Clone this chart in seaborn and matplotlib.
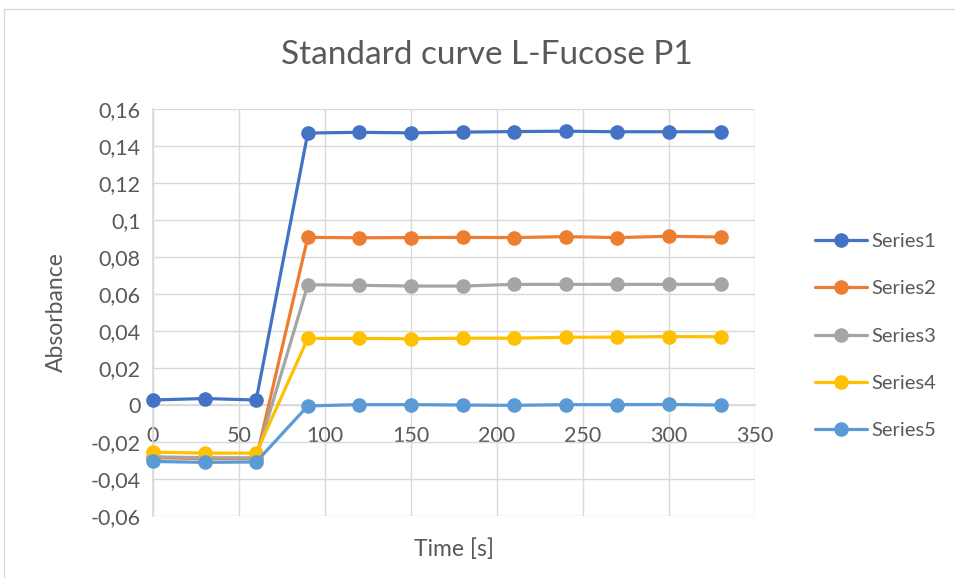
import matplotlib
matplotlib.use("Agg")
import matplotlib.pyplot as plt
import matplotlib.patches as mpatches
from matplotlib.ticker import FuncFormatter, MultipleLocator
import seaborn as sns
import pandas as pd

time_s = [0, 30, 60, 90, 120, 150, 180, 210, 240, 270, 300, 330]
series1 = [0.0027, 0.0035, 0.0027, 0.1470, 0.1474, 0.1471, 0.1475, 0.1478, 0.1480, 0.1477, 0.1477, 0.1477]
series2 = [-0.0285, -0.0290, -0.0290, 0.0906, 0.0904, 0.0905, 0.0906, 0.0905, 0.0910, 0.0905, 0.0912, 0.0908]
series3 = [-0.0280, -0.0285, -0.0285, 0.0650, 0.0647, 0.0643, 0.0643, 0.0652, 0.0652, 0.0652, 0.0652, 0.0652]
series4 = [-0.0255, -0.0260, -0.0260, 0.0360, 0.0360, 0.0358, 0.0361, 0.0361, 0.0366, 0.0367, 0.0370, 0.0369]
series5 = [-0.0305, -0.0310, -0.0308, -0.0005, 0.0002, 0.0002, 0.0000, -0.0002, 0.0002, 0.0002, 0.0003, 0.0000]
series_names = ["Series1", "Series2", "Series3", "Series4", "Series5"]
colors = ["#4472C4", "#ED7D31", "#A5A5A5", "#FFC000", "#5B9BD5"]

rows = []
for name, vals in zip(series_names, [series1, series2, series3, series4, series5]):
    for t, v in zip(time_s, vals):
        rows.append({"Time": t, "Absorbance": v, "Series": name})
df = pd.DataFrame(rows)

sns.set_theme(style="white")
plt.rcParams['font.family'] = ['Lato', 'DejaVu Sans']

fig = plt.figure(figsize=(9.55, 5.78), dpi=100)
ax = fig.add_axes([153/955, 1-516/578, (755-153)/955, (516-109)/578])

sns.lineplot(data=df, x="Time", y="Absorbance", hue="Series", palette=colors,
             marker="o", markersize=10.5, markeredgewidth=0, linewidth=2.3,
             ax=ax, zorder=3, legend=True)
for ln in ax.lines:
    ln.set_clip_on(False)

ax.set_xlim(0, 350)
ax.set_ylim(-0.06, 0.16)
ax.xaxis.set_major_locator(MultipleLocator(50))
ax.yaxis.set_major_locator(MultipleLocator(0.02))
ax.yaxis.set_major_formatter(FuncFormatter(lambda v, p: ("0" if abs(v) < 1e-9 else f"{v:.2f}".rstrip('0').replace('.', ','))))
ax.grid(True, color="#D9D9D9", linewidth=1)
ax.set_axisbelow(True)
for s in ["top", "right"]:
    ax.spines[s].set_visible(False)
ax.spines["left"].set_color("#D9D9D9")
ax.spines["bottom"].set_color("#D9D9D9")
ax.spines["bottom"].set_position(("data", 0))
ax.tick_params(axis="both", length=0, labelsize=15.5, colors="#595959")
ax.tick_params(axis="x", pad=15)
ax.tick_params(axis="y", pad=9)

ax.set_xlabel("Time [s]", fontsize=16.5, color="#595959")
ax.xaxis.set_label_coords(0.5, -0.054)
ax.set_ylabel("Absorbance", fontsize=16.5, color="#595959")
ax.yaxis.set_label_coords(-0.143, 0.5)
fig.text(487/955, 1-55/578, "Standard curve L-Fucose P1", ha="center", va="center",
         fontsize=24, color="#595959")

handles, labels = ax.get_legend_handles_labels()
leg = ax.legend(handles, labels, loc="center left", bbox_to_anchor=(797/955, 1-336/578),
                bbox_transform=fig.transFigure, frameon=False, fontsize=14.5,
                labelcolor="#595959", handlelength=2.6, handletextpad=0.2, labelspacing=1.5)
for h in leg.legend_handles:
    h.set_markersize(10.5)

fig.patches.append(mpatches.Rectangle((4/955, -0.01), 1.0, 1-9/578 + 0.01, transform=fig.transFigure,
                                      fill=False, edgecolor="#D9D9D9", linewidth=1))

fig.savefig("out.png", dpi=100, facecolor="white")
